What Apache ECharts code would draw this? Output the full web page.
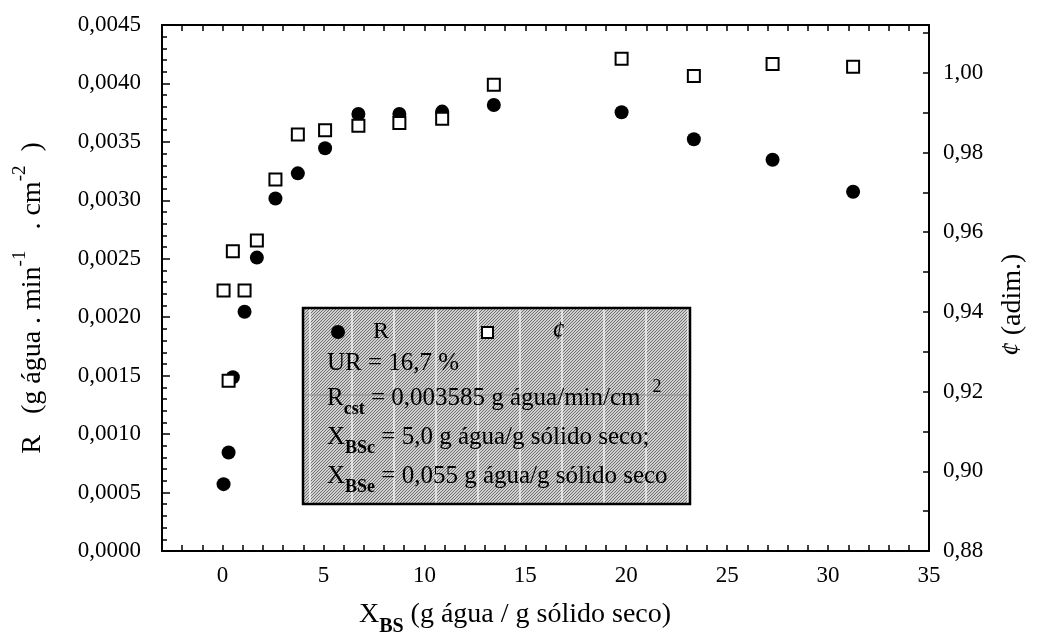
<!DOCTYPE html>
<html>
<head>
<meta charset="utf-8">
<script src="https://cdn.jsdelivr.net/npm/echarts@6/dist/echarts.min.js"></script>
<style>
html,body{margin:0;padding:0;background:#fff;}
#chart{width:1042px;height:643px;}
</style>
</head>
<body>
<div id="chart"></div>
<script>
// ---- data ----
const xValues = [0.05, 0.30, 0.51, 1.09, 1.70, 2.62, 3.73, 5.08, 6.73, 8.76, 10.88, 13.44, 19.77, 23.35, 27.25, 31.24];
const rValues = [0.000572, 0.000843, 0.001486, 0.002047, 0.002510, 0.003016, 0.003231, 0.003445, 0.003739, 0.003739, 0.003759, 0.003816, 0.003754, 0.003522, 0.003347, 0.003073];
const phiValues = [0.9454, 0.9227, 0.9552, 0.9454, 0.9579, 0.9732, 0.9845, 0.9856, 0.9867, 0.9874, 0.9885, 0.9970, 1.0035, 0.9992, 1.0022, 1.0015];
const seriesNames = ['R', '¢'];
const boxLines = ['UR = 16,7 %', '0,003585 g água/min/cm', '5,0 g água/g sólido seco;', '0,055 g água/g sólido seco'];

const FONT = '"Liberation Serif", "Times New Roman", serif';

const rData = xValues.map((x, i) => [x, rValues[i]]);
const phiData = xValues.map((x, i) => [x, phiValues[i]]);

// hatch pattern for the annotation box
const pc = document.createElement('canvas');
pc.width = 42; pc.height = 42;
const g = pc.getContext('2d');
g.fillStyle = '#d0d0d0';
g.fillRect(0, 0, 42, 42);
g.strokeStyle = '#707070';
g.lineWidth = 1;
for (let x0 = -42; x0 <= 42; x0 += 3) {
  g.beginPath(); g.moveTo(x0, 42); g.lineTo(x0 + 42, 0); g.stroke();
}
g.strokeStyle = '#ffffff';
g.lineWidth = 1.2;
g.beginPath(); g.moveTo(16, 0); g.lineTo(16, 42); g.stroke();

const comma = (v, d) => v.toFixed(d).replace('.', ',');

const chart = echarts.init(document.getElementById('chart'), null, {renderer: 'canvas'});

const axisLineStyle = {color: '#000', width: 2};
const subRich = {
  a: {fontFamily: FONT, fontSize: 25, color: '#000', lineHeight: 40, verticalAlign: 'middle'},
  sub: {fontFamily: FONT, fontSize: 18, fontWeight: 'bold', color: '#000', lineHeight: 18, verticalAlign: 'bottom'},
  sup: {fontFamily: FONT, fontSize: 18, color: '#000', lineHeight: 24, verticalAlign: 'top', padding: [0, 0, 0, 12]}
};

const option = {
  backgroundColor: '#fff',
  animation: false,
  grid: {left: 162, right: 113, top: 25, bottom: 92, containLabel: false},
  xAxis: [{
    type: 'value', min: -3, max: 35, interval: 1, position: 'bottom',
    axisLine: {show: true, onZero: false, lineStyle: axisLineStyle},
    axisTick: {show: true, inside: true, length: 6, lineStyle: {color: '#000', width: 1.5}},
    axisLabel: {
      margin: 13, color: '#000', fontFamily: FONT, fontSize: 23,
      formatter: v => { const r = Math.round(v); return (r >= 0 && r % 5 === 0 && Math.abs(v - r) < 1e-6) ? String(r) : ''; }
    },
    splitLine: {show: false}
  }, {
    type: 'value', min: -3, max: 35, interval: 1, position: 'top',
    axisLine: {show: true, onZero: false, lineStyle: axisLineStyle},
    axisTick: {show: true, inside: true, length: 6, lineStyle: {color: '#000', width: 1.5}},
    axisLabel: {show: false},
    splitLine: {show: false}
  }],
  yAxis: [{
    type: 'value', min: 0, max: 0.0045, interval: 0.0005, position: 'left',
    axisLine: {show: true, onZero: false, lineStyle: axisLineStyle},
    axisTick: {show: true, inside: true, length: 8, lineStyle: {color: '#000', width: 1.5}},
    minorTick: {show: true, splitNumber: 5, length: 5, lineStyle: {color: '#000', width: 1.5}},
    axisLabel: {margin: 21, color: '#000', fontFamily: FONT, fontSize: 23, formatter: v => comma(v, 4)},
    splitLine: {show: false}
  }, {
    type: 'value', min: 0.88, max: 1.012, interval: 0.01, position: 'right',
    axisLine: {show: true, onZero: false, lineStyle: axisLineStyle},
    axisTick: {show: true, inside: true, length: 6, lineStyle: {color: '#000', width: 1.5}},
    axisLabel: {
      margin: 14, color: '#000', fontFamily: FONT, fontSize: 23, showMaxLabel: false,
      formatter: v => { const k = Math.round(v * 1000); return (Math.abs(v * 1000 - k) < 0.01 && k % 20 === 0) ? comma(v, 2) : ''; }
    },
    splitLine: {show: false}
  }],
  legend: [{
    data: [{name: seriesNames[0], icon: 'circle', itemStyle: {color: '#000', opacity: 1}}],
    left: 331, top: 320, padding: 0, itemWidth: 14, itemHeight: 14, selectedMode: false,
    textStyle: {fontFamily: FONT, fontSize: 24, color: '#000', padding: [0, 0, 0, 23]}
  }, {
    data: [{name: seriesNames[1], icon: 'rect', itemStyle: {color: '#fff', borderColor: '#000', borderWidth: 2, opacity: 1}}],
    left: 481, top: 320, padding: 0, itemWidth: 11, itemHeight: 11, selectedMode: false,
    textStyle: {fontFamily: FONT, fontSize: 25, fontStyle: 'italic', color: '#000', padding: [0, 0, 0, 54]}
  }],
  graphic: [
    {type: 'rect', z: 1, shape: {x: 303, y: 308, width: 387, height: 196},
      style: {fill: {image: pc, repeat: 'repeat'}, stroke: '#000', lineWidth: 2.5}},
    {type: 'line', z: 2, shape: {x1: 304, y1: 395, x2: 689, y2: 395}, style: {stroke: '#8a8a8a', lineWidth: 1}},
    {type: 'text', z: 3, x: 327, y: 363,
      style: {text: boxLines[0], fontFamily: FONT, fontSize: 25, fill: '#000', verticalAlign: 'middle', align: 'left'}},
    {type: 'text', z: 3, x: 327, y: 398,
      style: {text: '{a|R}{sub|cst}{a| = ' + boxLines[1] + '}{sup|2}', rich: subRich, verticalAlign: 'middle', align: 'left'}},
    {type: 'text', z: 3, x: 327, y: 437,
      style: {text: '{a|X}{sub|BSc}{a| = ' + boxLines[2] + '}', rich: subRich, verticalAlign: 'middle', align: 'left'}},
    {type: 'text', z: 3, x: 327, y: 476,
      style: {text: '{a|X}{sub|BSe}{a| = ' + boxLines[3] + '}', rich: subRich, verticalAlign: 'middle', align: 'left'}},
    // axis titles
    {type: 'text', z: 3, x: 515, y: 615,
      style: {text: '{a|X}{sub|BS}{a| (g água / g sólido seco)}', align: 'center', verticalAlign: 'middle',
        rich: {
          a: {fontFamily: FONT, fontSize: 28, color: '#000', lineHeight: 44, verticalAlign: 'middle'},
          sub: {fontFamily: FONT, fontSize: 20, fontWeight: 'bold', color: '#000', lineHeight: 20, verticalAlign: 'bottom'}
        }}},
    {type: 'text', z: 3, x: 33, y: 298, rotation: Math.PI / 2,
      style: {text: '{a|R   (g água . min}{sup|-1}{a|   . cm}{sup|-2}{a|  )}', align: 'center', verticalAlign: 'middle',
        rich: {
          a: {fontFamily: FONT, fontSize: 28, color: '#000', lineHeight: 44, verticalAlign: 'middle'},
          sup: {fontFamily: FONT, fontSize: 19, color: '#000', lineHeight: 24, verticalAlign: 'top'}
        }}},
    {type: 'text', z: 3, x: 1013, y: 305, rotation: Math.PI / 2,
      style: {text: '{i|¢}{a| (adim.)}', align: 'center', verticalAlign: 'middle',
        rich: {
          a: {fontFamily: FONT, fontSize: 28, color: '#000'},
          i: {fontFamily: FONT, fontSize: 28, fontStyle: 'italic', color: '#000'}
        }}}
  ],
  series: [{
    name: seriesNames[0], type: 'scatter', xAxisIndex: 0, yAxisIndex: 0,
    symbol: 'circle', symbolSize: 14, z: 5,
    itemStyle: {color: '#000', opacity: 1},
    data: rData
  }, {
    name: seriesNames[1], type: 'scatter', xAxisIndex: 0, yAxisIndex: 1,
    symbol: 'rect', symbolSize: 12, z: 6,
    itemStyle: {color: '#fff', borderColor: '#000', borderWidth: 2, opacity: 1},
    data: phiData
  }]
};
chart.setOption(option);
</script>
</body>
</html>
